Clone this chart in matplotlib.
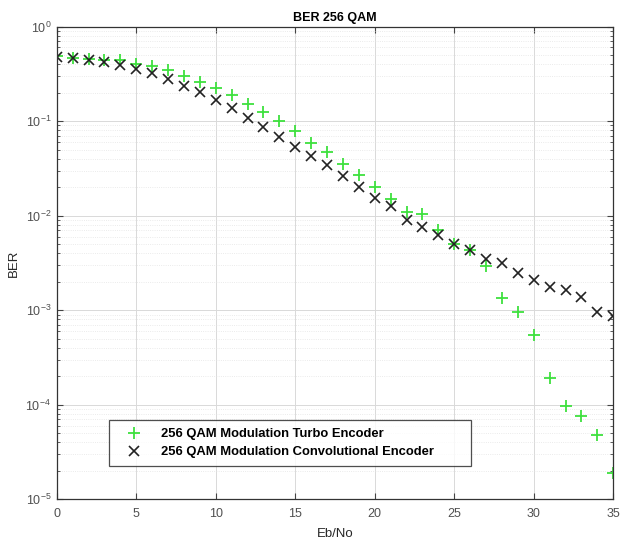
import matplotlib
matplotlib.use("Agg")
import matplotlib.pyplot as plt
from matplotlib.ticker import LogLocator, NullFormatter, MultipleLocator

# Eb/No sweep (dB)
ebno = list(range(0, 36))

# Bit error rate, 256 QAM with turbo coding
ber_turbo = [0.49, 0.47, 0.455, 0.44, 0.445, 0.40, 0.38, 0.346, 0.303, 0.257,
             0.222, 0.187, 0.153, 0.125, 0.099, 0.079, 0.0586, 0.047, 0.0351, 0.027,
             0.0201, 0.0149, 0.0109, 0.0105, 0.0070, 0.00507, 0.00438, 0.00291, 0.00136, 0.00095,
             0.00054, 0.000192, 0.000097, 0.000076, 0.000048, 0.000019]

# Bit error rate, 256 QAM with convolutional coding
ber_conv = [0.48, 0.465, 0.445, 0.42, 0.395, 0.358, 0.324, 0.279, 0.237, 0.201,
            0.166, 0.136, 0.109, 0.0869, 0.0685, 0.0535, 0.0425, 0.0343, 0.026, 0.0201,
            0.0153, 0.0125, 0.0089, 0.00756, 0.0062, 0.00507, 0.00438, 0.00349, 0.00316, 0.00248,
            0.0021, 0.00174, 0.00162, 0.00137, 0.00095, 0.00087]

labels = ["256 QAM Modulation Turbo Encoder", "256 QAM Modulation Convolutional Encoder"]

plt.rcParams["font.family"] = ["Liberation Sans", "DejaVu Sans"]

fig = plt.figure(figsize=(6.22, 5.41), dpi=100)
ax = fig.add_axes([0.0912, 0.0771, 0.8948, 0.8739])

ax.semilogy(ebno, ber_turbo, linestyle="none", marker="+", color="#3ee03e",
            markersize=8, markeredgewidth=1.3, label=labels[0])
ax.semilogy(ebno, ber_conv, linestyle="none", marker="x", color="#222222",
            markersize=6.5, markeredgewidth=1.2, label=labels[1])

ax.set_xlim(0, 35)
ax.set_ylim(1e-5, 1)
ax.xaxis.set_major_locator(MultipleLocator(5))
ax.yaxis.set_major_locator(LogLocator(base=10, numticks=10))
ax.yaxis.set_minor_locator(LogLocator(base=10, subs=range(2, 10), numticks=100))
ax.yaxis.set_minor_formatter(NullFormatter())

ax.grid(True, which="major", color="#d9d9d9", linewidth=0.7)
ax.grid(True, which="minor", axis="y", color="#e4e4e4", linewidth=0.6, linestyle=":")
ax.set_axisbelow(True)

ax.tick_params(which="both", direction="in", top=True, right=True, colors="#444444",
               labelcolor="#505050", labelsize=9)
ax.tick_params(axis="x", which="major", pad=6)
ax.tick_params(axis="y", which="major", pad=4)
ax.tick_params(which="major", length=4)
ax.tick_params(which="minor", length=2.5)
for s in ax.spines.values():
    s.set_color("#333333")
    s.set_linewidth(0.9)

ax.set_title("BER 256 QAM", fontsize=9, fontweight="bold", pad=4)
ax.set_xlabel("Eb/No", fontsize=9.5, color="#262626", labelpad=6)
ax.set_ylabel("BER", fontsize=9.5, color="#262626", labelpad=4)

leg = ax.legend(loc="lower left", bbox_to_anchor=(0.094, 0.0704, 0.650, 0.1015),
                mode="expand", frameon=True, fancybox=False, borderaxespad=0,
                handlelength=2.6, handletextpad=0.8, labelspacing=0.45, borderpad=0.6,
                prop={"family": ["Liberation Sans"], "weight": "bold", "size": 9.4})
leg.get_frame().set_edgecolor("#222222")
leg.get_frame().set_linewidth(0.9)

fig.savefig("out.png", dpi=100)
